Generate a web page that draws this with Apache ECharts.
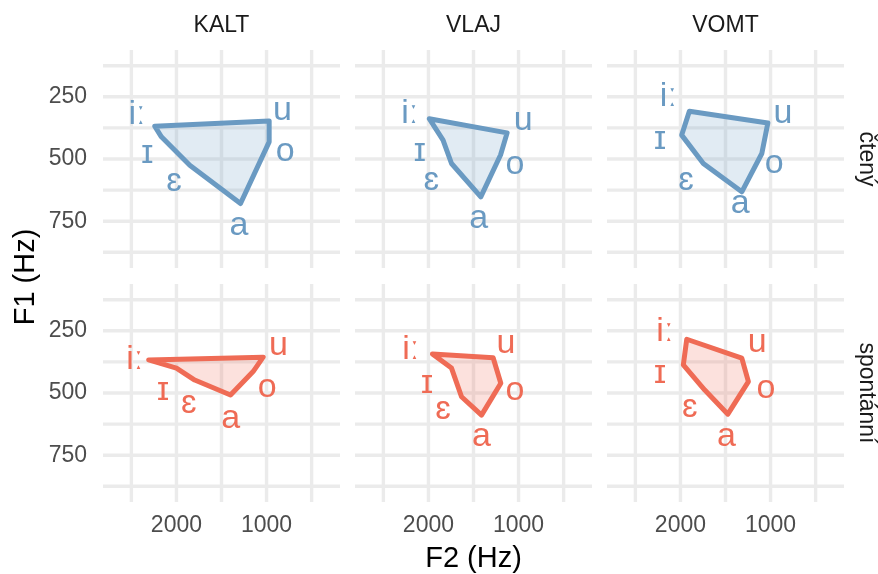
<!DOCTYPE html>
<html>
<head>
<meta charset="utf-8">
<script src="https://cdn.jsdelivr.net/npm/echarts@6/dist/echarts.min.js"></script>
<style>
  html, body { margin: 0; padding: 0; background: #fff; }
  #chart { width: 878px; height: 574px; }
</style>
</head>
<body>
<div id="chart"></div>
<script>
// Facets: speakers across, speech style down
const speakers = ['KALT', 'VLAJ', 'VOMT'];
const styles = ['čtený', 'spontánní'];
const vowels = ['iː', 'ɪ', 'ɛ', 'a', 'o', 'u'];

// Axis ticks (Hz)
const f2Ticks = [2000, 1000];
const f1Ticks = [250, 500, 750];
const f2Grid = [2500, 2000, 1500, 1000, 500];
const f1Grid = [125, 250, 375, 500, 625, 750, 875];
const f2Range = [185, 2815];
const f1Range = [62, 938];

// Mean formants per vowel (order as in `vowels`), polygon corners
const KALT_cteny_F2 = [2241, 2167, 1852, 1289, 971, 971];
const KALT_cteny_F1 = [368, 411, 525, 679, 431, 347];
const VLAJ_cteny_F2 = [1991, 1838, 1744, 1419, 1200, 1127];
const VLAJ_cteny_F1 = [338, 424, 518, 652, 484, 395];
const VOMT_cteny_F2 = [1901, 1986, 1746, 1319, 1097, 1030];
const VOMT_cteny_F1 = [308, 404, 518, 632, 478, 355];
const KALT_spont_F2 = [2308, 2000, 1797, 1400, 1149, 1038];
const KALT_spont_F1 = [367, 400, 448, 508, 414, 356];
const VLAJ_spont_F2 = [1956, 1744, 1633, 1411, 1197, 1282];
const VLAJ_spont_F1 = [343, 400, 515, 589, 461, 358];
const VOMT_spont_F2 = [1930, 1968, 1730, 1474, 1246, 1319];
const VOMT_spont_F1 = [284, 387, 488, 585, 454, 360];

// Vowel label anchors (Hz)
const KALT_cteny_labF2 = [2438, 2324, 2028, 1306, 793, 824];
const KALT_cteny_labF1 = [320, 478, 592, 769, 471, 304];
const VLAJ_cteny_labF2 = [2208, 2097, 1967, 1441, 1041, 949];
const VLAJ_cteny_labF1 = [317, 471, 585, 739, 521, 347];
const VOMT_cteny_labF2 = [2134, 2227, 1938, 1338, 960, 863];
const VOMT_cteny_labF1 = [250, 424, 585, 681, 518, 317];
const KALT_spont_labF2 = [2463, 2149, 1863, 1397, 993, 868];
const KALT_spont_labF1 = [364, 491, 541, 602, 477, 311];
const VLAJ_spont_labF2 = [2197, 2016, 1838, 1411, 1041, 1141];
const VLAJ_spont_labF1 = [327, 461, 568, 676, 491, 302];
const VOMT_spont_labF2 = [2173, 2227, 1896, 1489, 1051, 1148];
const VOMT_spont_labF1 = [253, 424, 558, 676, 481, 297];

const panelData = [
  [KALT_cteny_F2, KALT_cteny_F1, KALT_cteny_labF2, KALT_cteny_labF1],
  [VLAJ_cteny_F2, VLAJ_cteny_F1, VLAJ_cteny_labF2, VLAJ_cteny_labF1],
  [VOMT_cteny_F2, VOMT_cteny_F1, VOMT_cteny_labF2, VOMT_cteny_labF1],
  [KALT_spont_F2, KALT_spont_F1, KALT_spont_labF2, KALT_spont_labF1],
  [VLAJ_spont_F2, VLAJ_spont_F1, VLAJ_spont_labF2, VLAJ_spont_labF1],
  [VOMT_spont_F2, VOMT_spont_F1, VOMT_spont_labF2, VOMT_spont_labF1]
];

const styleColors = ['#6A9AC2', '#EF6B55'];
const styleFills = ['rgba(106,154,194,0.2)', 'rgba(239,107,85,0.2)'];

const FONT = "'Liberation Sans', Arial, Helvetica, sans-serif";
const panelLeft = [103, 355, 607];
const panelTop = [50, 284];
const panelW = 237;
const panelH = 218;

const grids = [], xAxes = [], yAxes = [], series = [], graphics = [];

for (let r = 0; r < 2; r++) {
  for (let c = 0; c < 3; c++) {
    const g = r * 3 + c;
    grids.push({ left: panelLeft[c], top: panelTop[r], width: panelW, height: panelH });
    xAxes.push({
      type: 'value', gridIndex: g, inverse: true, min: f2Range[0], max: f2Range[1],
      axisLine: { show: false }, axisTick: { show: false }, splitLine: { show: false },
      axisLabel: {
        show: r === 1, customValues: f2Ticks, margin: 12, formatter: v => String(v),
        color: '#4D4D4D', fontSize: 23, fontFamily: FONT
      }
    });
    yAxes.push({
      type: 'value', gridIndex: g, inverse: true, min: f1Range[0], max: f1Range[1],
      axisLine: { show: false }, axisTick: { show: false }, splitLine: { show: false },
      axisLabel: {
        show: c === 0, customValues: f1Ticks, margin: 16, formatter: v => String(v),
        color: '#4D4D4D', fontSize: 23, fontFamily: FONT
      }
    });

    // vertical grid lines
    series.push({
      type: 'custom', xAxisIndex: g, yAxisIndex: g, silent: true, z: 1,
      data: f2Grid.map(v => [v, f1Range[0]]),
      renderItem: function (params, api) {
        const p1 = api.coord([api.value(0), f1Range[0]]);
        const p2 = api.coord([api.value(0), f1Range[1]]);
        return { type: 'line', shape: { x1: p1[0], y1: p1[1], x2: p2[0], y2: p2[1] },
                 style: { stroke: '#EBEBEB', lineWidth: 3.4 } };
      }
    });
    // horizontal grid lines
    series.push({
      type: 'custom', xAxisIndex: g, yAxisIndex: g, silent: true, z: 1,
      data: f1Grid.map(v => [f2Range[0], v]),
      renderItem: function (params, api) {
        const p1 = api.coord([f2Range[0], api.value(1)]);
        const p2 = api.coord([f2Range[1], api.value(1)]);
        return { type: 'line', shape: { x1: p1[0], y1: p1[1], x2: p2[0], y2: p2[1] },
                 style: { stroke: '#EBEBEB', lineWidth: 3.4 } };
      }
    });

    const [f2, f1, lf2, lf1] = panelData[g];
    // vowel polygon
    series.push({
      type: 'custom', xAxisIndex: g, yAxisIndex: g, silent: true, z: 3,
      data: f2.map((x, i) => [x, f1[i]]),
      renderItem: function (params, api) {
        if (params.dataIndex !== 0) return;
        const pts = f2.map((x, i) => api.coord([x, f1[i]]));
        return { type: 'polygon', shape: { points: pts },
                 style: { fill: styleFills[r], stroke: styleColors[r], lineWidth: 5, lineJoin: 'round' } };
      }
    });
    // vowel labels
    series.push({
      type: 'custom', xAxisIndex: g, yAxisIndex: g, silent: true, z: 4,
      data: lf2.map((x, i) => [x, lf1[i]]),
      renderItem: function (params, api) {
        const p = api.coord([api.value(0), api.value(1)]);
        return { type: 'text', x: p[0], y: p[1],
                 style: { text: vowels[params.dataIndex], fill: styleColors[r], fontSize: 34,
                          fontFamily: FONT, align: 'center', verticalAlign: 'middle' } };
      }
    });
  }
}

// strip labels
speakers.forEach((s, c) => {
  graphics.push({ type: 'text', x: panelLeft[c] + panelW / 2, y: 25.5, silent: true,
    style: { text: s, fontSize: 23, fontFamily: FONT, fill: '#1A1A1A', align: 'center', verticalAlign: 'middle' } });
});
styles.forEach((s, r) => {
  graphics.push({ type: 'text', x: 866, y: panelTop[r] + panelH / 2, rotation: -Math.PI / 2, silent: true,
    style: { text: s, fontSize: 23, fontFamily: FONT, fill: '#1A1A1A', align: 'center', verticalAlign: 'middle' } });
});
// axis titles
graphics.push({ type: 'text', x: 473.5, y: 559, silent: true,
  style: { text: 'F2 (Hz)', fontSize: 29, fontFamily: FONT, fill: '#000', align: 'center', verticalAlign: 'middle' } });
graphics.push({ type: 'text', x: 26, y: 277, rotation: Math.PI / 2, silent: true,
  style: { text: 'F1 (Hz)', fontSize: 29, fontFamily: FONT, fill: '#000', align: 'center', verticalAlign: 'middle' } });

const chart = echarts.init(document.getElementById('chart'), null, { renderer: 'canvas' });
chart.setOption({
  backgroundColor: '#fff',
  animation: false,
  grid: grids,
  xAxis: xAxes,
  yAxis: yAxes,
  series: series,
  graphic: graphics
});
</script>
</body>
</html>
